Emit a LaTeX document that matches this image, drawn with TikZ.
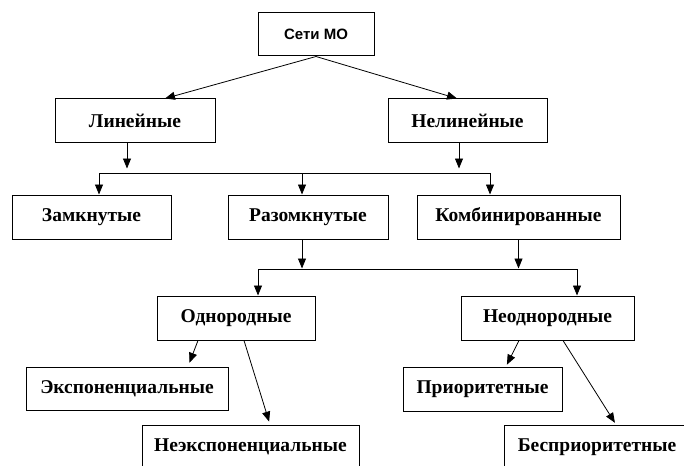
\documentclass[tikz,border=0pt]{standalone}
\usepackage{fontspec}
\setmainfont{Liberation Serif}
\newfontfamily\bodyfont{Liberation Serif}
\newfontfamily\headfont{Liberation Sans}
\usetikzlibrary{arrows.meta}
\begin{document}
\begin{tikzpicture}[x=1pt,y=-1pt,
  box/.style={draw, line width=1pt, inner sep=0pt, minimum height=44pt,
    font=\bodyfont\fontsize{19.5}{22}\selectfont\bfseries},
  rootbox/.style={box, minimum height=43pt,
    font=\headfont\fontsize{15}{17}\selectfont\bfseries},
  link/.style={line width=0.8pt},
  arr/.style={link, -{Triangle[length=10pt,width=8pt]}}]
\useasboundingbox (0,0) rectangle (684,465);
\clip (0,0) rectangle (684,465);
\fill[white] (0,0) rectangle (684,465);

% nodes
\node[rootbox, minimum width=116pt] (root) at (316,34.5) {Сети МО};
\node[box, minimum width=160pt] (lin)    at (135,121)   {Линейные};
\node[box, minimum width=159pt] (nonlin) at (467.5,121) {Нелинейные};
\node[box, minimum width=159pt] (zamk)   at (91.5,217)  {Замкнутые};
\node[box, minimum width=160pt] (razom)  at (308,217)   {Разомкнутые};
\node[box, minimum width=203pt] (komb)   at (518.5,217) {Комбинированные};
\node[box, minimum width=158pt] (odn)    at (236,318)   {Однородные};
\node[box, minimum width=173pt] (neodn)  at (547.5,318) {Неоднородные};
\node[box, minimum width=202pt, minimum height=43pt] (exp)  at (127,388.5) {Экспоненциальные};
\node[box, minimum width=159pt] (prio)   at (482.5,389) {Приоритетные};
\node[box, minimum width=217pt] (nonexp) at (250.5,447) {Неэкспоненциальные};
\node[box, minimum width=186pt] (bespr)  at (597,447)   {Бесприоритетные};

% first level
\draw[arr] (root.south) -- ([xshift=30]lin.north);
\draw[arr] (root.south) -- ([xshift=-10.5]nonlin.north);

% upper bus
\coordinate (busAL) at (99,173);
\coordinate (busAR) at (490,173);
\draw[arr] ([xshift=-8]lin.south) -- ++(0,25);
\draw[arr] ([xshift=-8.5]nonlin.south) -- ++(0,25);
\draw[link] (busAL) -- (busAR);
\draw[arr] (busAL) -- (zamk.north -| busAL);
\draw[arr] ([xshift=-6]razom.north |- busAL) -- ([xshift=-6]razom.north);
\draw[arr] (busAR) -- (komb.north -| busAR);

% lower bus
\coordinate (busBL) at (258,269);
\coordinate (busBR) at (577,269);
\draw[arr] ([xshift=-6]razom.south) -- ++(0,29);
\draw[arr] (komb.south) -- ++(0,29);
\draw[link] (busBL) -- (busBR);
\draw[arr] (busBL) -- (odn.north -| busBL);
\draw[arr] (busBR) -- (neodn.north -| busBR);

% leaves
\draw[arr, shorten >=4pt] ([xshift=-38]odn.south) -- ([xshift=61]exp.north);
\draw[arr, shorten >=3pt] ([xshift=8]odn.south) -- ([xshift=19.5]nonexp.north);
\draw[arr, shorten >=2pt] ([xshift=-28.5]neodn.south) -- ([xshift=23.5]prio.north);
\draw[arr, shorten >=2pt] ([xshift=15.5]neodn.south) -- ([xshift=19]bespr.north);
\end{tikzpicture}
\end{document}
